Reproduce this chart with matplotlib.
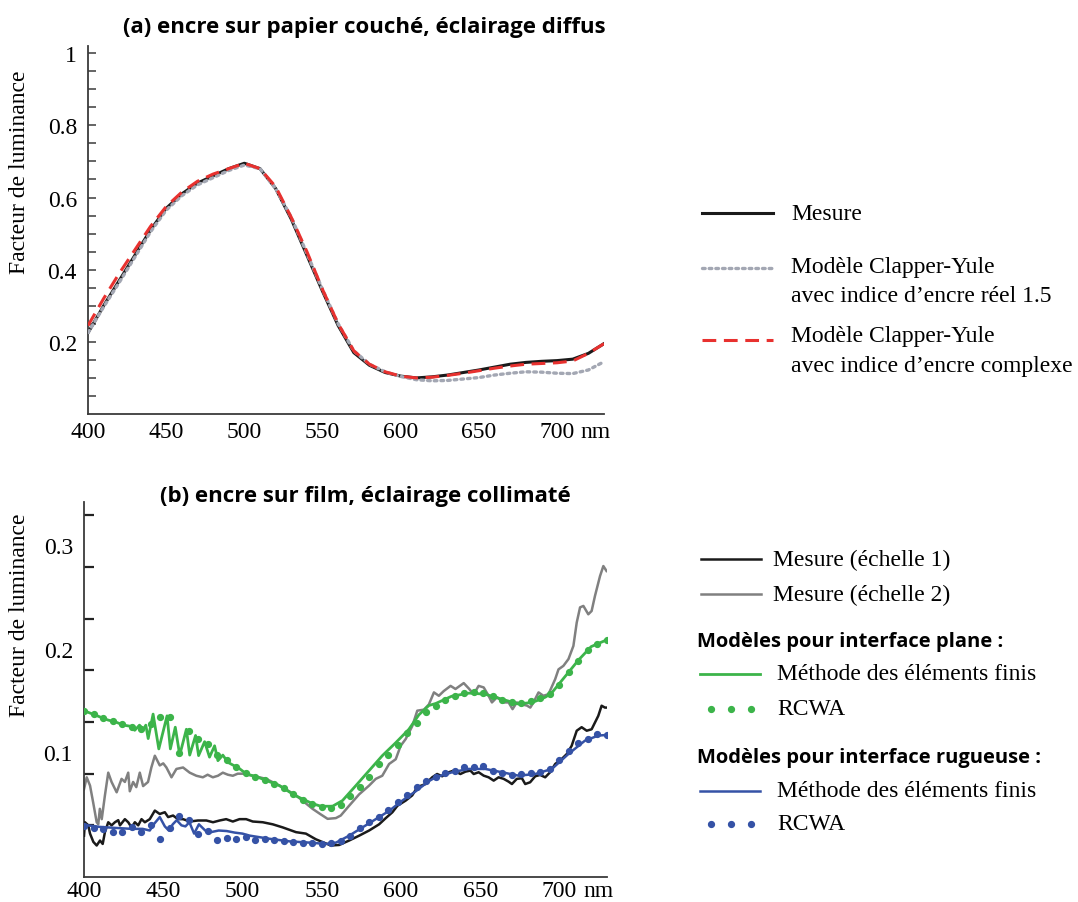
import numpy as np
import matplotlib
matplotlib.use("Agg")
import matplotlib.pyplot as plt
from matplotlib.lines import Line2D

plt.rcParams['font.family'] = ['Liberation Serif', 'DejaVu Serif']

# ---- (a) ink on coated paper, diffuse lighting ----
wl_a = [400, 410, 420, 430, 440, 450, 460, 470, 480, 490, 500, 510, 520, 530, 540, 550, 560,
        570, 580, 590, 600, 610, 620, 630, 640, 650, 660, 670, 680, 690, 700, 710, 720, 730]
mesure_a = [0.225, 0.30, 0.37, 0.44, 0.51, 0.57, 0.61, 0.64, 0.66, 0.68, 0.695, 0.68, 0.625, 0.54,
            0.44, 0.34, 0.245, 0.17, 0.135, 0.115, 0.105, 0.100, 0.103, 0.108, 0.115, 0.122,
            0.130, 0.138, 0.143, 0.146, 0.148, 0.152, 0.168, 0.195]
cy_reel = [0.225, 0.297, 0.365, 0.435, 0.505, 0.565, 0.605, 0.635, 0.655, 0.675, 0.69, 0.68, 0.625,
           0.545, 0.445, 0.345, 0.25, 0.175, 0.138, 0.117, 0.104, 0.095, 0.092, 0.093, 0.097,
           0.101, 0.108, 0.113, 0.117, 0.116, 0.113, 0.112, 0.122, 0.145]
cy_complexe = [0.245, 0.32, 0.39, 0.455, 0.52, 0.575, 0.615, 0.645, 0.665, 0.68, 0.695, 0.68, 0.63,
               0.545, 0.45, 0.345, 0.25, 0.175, 0.138, 0.117, 0.105, 0.100, 0.102, 0.107, 0.113,
               0.120, 0.127, 0.133, 0.138, 0.140, 0.142, 0.147, 0.168, 0.195]

# ---- (b) ink on film, collimated lighting ----
wl_gris = [400, 401.7, 403.8, 405.8, 408, 409, 410, 411.2, 413.2, 415.3, 417.4, 420.6, 423.7, 425.8,
           427.9, 428.9, 431, 433, 435.2, 437.3, 440.4, 442.5, 444.7, 447.8, 450, 452, 455.2, 458.3,
           462.5, 466.7, 470.9, 475, 478, 481.3, 484.5, 487.6, 490.8, 493.9, 497, 500.2, 506.5,
           514.9, 523.3, 533.8, 544.2, 549, 553.7, 558.9, 562, 567.3, 573.6, 579.9, 584.1, 588.2,
           592.5, 596.7, 599.8, 603, 607.1, 610.3, 614.5, 617.6, 620.8, 623.9, 627, 631.3, 634.4,
           639.6, 642.8, 645.9, 649, 652.2, 655.3, 657.4, 660.6, 664.8, 667.9, 670.4, 673.1, 676.3,
           679.4, 681.6, 683.6, 686.8, 689.9, 693.1, 697.3, 699.4, 702.5, 705.7, 708.8, 710.9, 713,
           715.1, 718.2, 720.3, 722.4, 725.6, 727.7, 729.7]
mesure_gris = [0.064, 0.0755, 0.0675, 0.051, 0.032, 0.030, 0.045, 0.035, 0.058, 0.080, 0.071, 0.061,
               0.074, 0.071, 0.080, 0.062, 0.071, 0.066, 0.080, 0.067, 0.071, 0.085, 0.0964, 0.087,
               0.089, 0.085, 0.0755, 0.0836, 0.085, 0.080, 0.077, 0.0755, 0.078, 0.0755, 0.077, 0.080,
               0.078, 0.077, 0.079, 0.079, 0.077, 0.074, 0.0675, 0.058, 0.045, 0.040, 0.0353, 0.036,
               0.0385, 0.048, 0.059, 0.0675, 0.074, 0.077, 0.0884, 0.093, 0.106, 0.1126, 0.125, 0.140,
               0.141, 0.146, 0.1577, 0.1544, 0.159, 0.164, 0.161, 0.1667, 0.1615, 0.156, 0.164, 0.1625,
               0.1544, 0.148, 0.153, 0.148, 0.148, 0.1415, 0.148, 0.146, 0.145, 0.143, 0.148, 0.1577,
               0.1544, 0.156, 0.1705, 0.180, 0.1834, 0.190, 0.2027, 0.2253, 0.240, 0.2414, 0.2333,
               0.2365, 0.251, 0.2703, 0.280, 0.2752]

wl_noir = [400, 400.6, 402.7, 403.8, 405.9, 408, 410.1, 411.8, 413.2, 415.3, 417.4, 419.5, 421.6,
           422.7, 425.8, 427.9, 430, 432.1, 434.2, 436.3, 438.4, 441.5, 444.7, 447.8, 451, 453.1,
           456.2, 459.3, 462.5, 466.7, 471.9, 477.2, 481.4, 485.6, 489.7, 493.9, 498.1, 502.3,
           506.5, 512.8, 519.1, 525.4, 533.8, 540, 546.3, 550.5, 555.8, 561, 567.3, 573.6, 579.9,
           586.2, 590.4, 594.6, 597.8, 603, 607.1, 610.3, 615.5, 619.7, 622.8, 626, 630.2, 633.3,
           637.5, 640.7, 643.8, 645.9, 649, 652.2, 655.3, 658.5, 661.6, 664.8, 667.9, 670, 673.1,
           676.3, 678.4, 681.5, 684.7, 687.8, 691, 694.1, 697.3, 701.4, 704.6, 707.7, 710.9, 714,
           717.2, 720.3, 724.5, 726.6, 728.7, 729.8]
mesure_noir = [0.019, 0.032, 0.029, 0.021, 0.013, 0.0095, 0.0143, 0.011, 0.0224, 0.032, 0.029, 0.032,
               0.034, 0.029, 0.035, 0.032, 0.027, 0.032, 0.029, 0.035, 0.032, 0.035, 0.0433, 0.040,
               0.0417, 0.037, 0.0385, 0.035, 0.035, 0.0327, 0.0337, 0.0337, 0.032, 0.0337, 0.035,
               0.0327, 0.035, 0.035, 0.0327, 0.032, 0.030, 0.027, 0.0224, 0.021, 0.0155, 0.0128,
               0.0095, 0.010, 0.0143, 0.019, 0.024, 0.030, 0.036, 0.0417, 0.048, 0.053, 0.058, 0.066,
               0.069, 0.0755, 0.0787, 0.0765, 0.0804, 0.082, 0.0787, 0.081, 0.082, 0.0787, 0.0804,
               0.0771, 0.0755, 0.0723, 0.0755, 0.074, 0.0713, 0.069, 0.074, 0.0746, 0.069, 0.0707,
               0.0765, 0.0778, 0.0755, 0.0804, 0.0884, 0.0932, 0.098, 0.106, 0.1206, 0.124, 0.1206,
               0.122, 0.135, 0.1448, 0.143, 0.143]

wl_vert = [400, 405, 410, 415, 420, 425, 429, 432, 435, 437.5, 439, 440.5, 443.6, 447.2, 452.4, 454.5,
           457.6, 460.4, 464.6, 466.7, 470.4, 472.3, 476.1, 479.2, 482.4, 484.5, 487.6, 490.8, 498,
           502.3, 510.7, 523.3, 533, 544.2, 549.5, 556.8, 563.1, 571.5, 579.9, 588.2, 596.7, 605,
           611.3, 617.6, 622, 632, 643, 653, 664, 674, 683, 691, 695, 703.5, 712, 720, 729, 730]
fem_plane = [0.140, 0.137, 0.134, 0.131, 0.129, 0.126, 0.125, 0.121, 0.126, 0.122, 0.126, 0.113,
             0.1367, 0.103, 0.135, 0.103, 0.124, 0.097, 0.122, 0.097, 0.116, 0.0965, 0.110, 0.095,
             0.106, 0.0916, 0.097, 0.090, 0.084, 0.079, 0.075, 0.0675, 0.058, 0.050, 0.0475, 0.0475,
             0.053, 0.0674, 0.082, 0.0964, 0.109, 0.122, 0.136, 0.145, 0.147, 0.154, 0.157, 0.156,
             0.151, 0.1465, 0.148, 0.153, 0.157, 0.173, 0.189, 0.202, 0.208, 0.209]

wl_rcwa = [400, 406, 412, 418, 424, 430, 436, 442, 448, 454, 460, 466, 472, 478, 484, 490, 496, 502,
           508, 514, 520, 526, 532, 538, 544, 550, 556, 562, 568, 574, 580, 586, 592, 598, 604, 610,
           616, 622, 628, 634, 640, 646, 652, 658, 664, 670, 676, 682, 688, 694, 700, 706, 712, 718,
           724, 730]
rcwa_plane = [0.140, 0.137, 0.133, 0.130, 0.127, 0.124, 0.122, 0.127, 0.134, 0.134, 0.099, 0.120,
              0.113, 0.108, 0.097, 0.092, 0.085, 0.080, 0.076, 0.073, 0.069, 0.065, 0.059, 0.054,
              0.050, 0.047, 0.046, 0.049, 0.057, 0.066, 0.076, 0.088, 0.097, 0.107, 0.118, 0.128,
              0.139, 0.145, 0.150, 0.154, 0.157, 0.158, 0.157, 0.154, 0.150, 0.148, 0.147, 0.149,
              0.152, 0.156, 0.165, 0.177, 0.188, 0.199, 0.205, 0.208]

wl_bleu = [400, 410, 420, 430, 437, 441.5, 444, 447.8, 451, 453.5, 456, 458.5, 461.5, 464, 466.5,
           469.5, 472.5, 476.5, 480, 485, 490, 495, 500, 504.4, 517, 529.6, 542.2, 552.7, 559,
           567.3, 575.7, 584.1, 592.5, 600.9, 609.3, 617.6, 621.8, 632.3, 642.7, 653.2, 663.7,
           674.2, 684.7, 695.2, 705.6, 716.1, 724.5, 729.8]
fem_rugueuse = [0.0295, 0.0275, 0.0265, 0.0256, 0.0256, 0.024, 0.030, 0.037, 0.028, 0.024, 0.030,
                0.034, 0.029, 0.028, 0.032, 0.021, 0.030, 0.024, 0.0224, 0.024, 0.0235, 0.022, 0.021,
                0.0191, 0.016, 0.0135, 0.0123, 0.011, 0.0123, 0.019, 0.027, 0.035, 0.043, 0.053,
                0.062, 0.0718, 0.0755, 0.0804, 0.0836, 0.0836, 0.0804, 0.0771, 0.0787, 0.0836,
                0.098, 0.111, 0.1159, 0.1165]
rcwa_rugueuse = [0.028, 0.026, 0.025, 0.023, 0.023, 0.027, 0.023, 0.029, 0.016, 0.026, 0.038, 0.034,
                 0.021, 0.024, 0.015, 0.017, 0.016, 0.018, 0.015, 0.016, 0.015, 0.014, 0.013, 0.012,
                 0.012, 0.011, 0.012, 0.014, 0.019, 0.026, 0.032, 0.037, 0.044, 0.052, 0.058, 0.066,
                 0.072, 0.076, 0.080, 0.082, 0.085, 0.085, 0.086, 0.082, 0.080, 0.078, 0.079, 0.080,
                 0.081, 0.084, 0.092, 0.101, 0.109, 0.113, 0.117, 0.116]

xticks = [400, 450, 500, 550, 600, 650, 700]

NOIR = '#1a1a1a'
GRIS = '#808080'
VERT = '#3cb44a'
BLEU = '#3552a6'
ROUGE = '#e8312f'
GRIS_POINT = '#a3a7b3'
TXT = 17

W, H = 1078, 903
fig = plt.figure(figsize=(W / 100, H / 100), dpi=100)


def fx(px):
    return px / W


def fy(py):
    return 1 - py / H


def style_axis(ax, pad):
    ax.spines['top'].set_visible(False)
    ax.spines['right'].set_visible(False)
    for s in ('left', 'bottom'):
        ax.spines[s].set_color('#3a3a3a')
        ax.spines[s].set_linewidth(1.3)
    ax.set_xlim(400, 730)
    ax.set_xticks(xticks)
    ax.set_xticklabels([str(t) for t in xticks])
    ax.tick_params(axis='x', length=0, labelsize=TXT, pad=pad)
    ax.annotate('nm', xy=(700, 0), xycoords=('data', 'axes fraction'),
                xytext=(17, -pad), textcoords='offset points', ha='left', va='top', fontsize=TXT)


# ----- top panel -----
ax1 = fig.add_axes([fx(88), fy(415), fx(604) - fx(88), (415 - 47) / H])
style_axis(ax1, 5)
ax1.set_ylim(0, 1.02)
ax1.set_yticks([0.2, 0.4, 0.6, 0.8, 1.0])
ax1.set_yticklabels(['0.2', '0.4', '0.6', '0.8', '1'])
ax1.set_yticks(np.arange(0.05, 1.01, 0.05), minor=True)
ax1.tick_params(axis='y', which='both', direction='in', length=6, width=1.1,
                color='#3a3a3a', labelsize=TXT, pad=8)

ax1.plot(wl_a, mesure_a, color=NOIR, lw=2.2, zorder=3)
ax1.plot(wl_a, cy_reel, color=GRIS_POINT, lw=2.4, linestyle=(0, (0.8, 1.2)),
         dash_capstyle='round', zorder=4)
ax1.plot(wl_a, cy_complexe, color=ROUGE, lw=2.2, linestyle=(0, (4.5, 2.5)), zorder=5)

fig.text(fx(20), fy(172), 'Facteur de luminance', rotation=90, ha='center', va='center',
         fontsize=TXT)
fig.text(fx(364), fy(28), '(a) encre sur papier couché, éclairage diffus', ha='center',
         va='center', fontsize=16, fontweight='bold', family=['Open Sans', 'DejaVu Sans'])

# ----- bottom panel -----
ax2 = fig.add_axes([fx(84), fy(878), fx(607) - fx(84), (878 - 503) / H])
style_axis(ax2, 2)
ax2.set_ylim(-0.021, 0.342)
ax2.set_yticks([0.1, 0.2, 0.3])
ax2.set_yticklabels(['0.1', '0.2', '0.3'])
ax2.tick_params(axis='y', which='major', length=0, labelsize=TXT, pad=8)
ax2.set_yticks([0.029, 0.079, 0.129, 0.179, 0.229, 0.279, 0.329], minor=True)
ax2.tick_params(axis='y', which='minor', direction='in', length=7, width=1.6, color='#222222')

ax2.plot(wl_gris, mesure_gris, color=GRIS, lw=1.8, zorder=2)
ax2.plot(wl_noir, mesure_noir, color=NOIR, lw=1.8, zorder=3)
ax2.plot(wl_vert, fem_plane, color=VERT, lw=2.0, zorder=4)
ax2.plot(wl_rcwa, rcwa_plane, linestyle='none', marker='o', ms=4.2, color=VERT, zorder=5)
ax2.plot(wl_bleu, fem_rugueuse, color=BLEU, lw=1.8, zorder=4)
ax2.plot(wl_rcwa, rcwa_rugueuse, linestyle='none', marker='o', ms=4.2, color=BLEU, zorder=5)

fig.text(fx(20), fy(615), 'Facteur de luminance', rotation=90, ha='center', va='center',
         fontsize=TXT)
fig.text(fx(365), fy(497), '(b) encre sur film, éclairage collimaté', ha='center',
         va='center', fontsize=16, fontweight='bold', family=['Open Sans', 'DejaVu Sans'])


# ----- legends (figure coordinates) -----
def leg_line(x0, x1, y, **kw):
    fig.add_artist(Line2D([fx(x0), fx(x1)], [fy(y), fy(y)], transform=fig.transFigure, **kw))


def leg_text(x, y, s, bold=False):
    if bold:
        fig.text(fx(x), fy(y), s, ha='left', va='center', fontsize=14.5, fontweight='bold',
                 family=['Open Sans', 'DejaVu Sans'])
    else:
        fig.text(fx(x), fy(y), s, ha='left', va='center', fontsize=TXT)


leg_line(702, 773, 214, color=NOIR, lw=2.2)
leg_text(791, 215, 'Mesure')
leg_line(702, 773, 269, color=GRIS_POINT, lw=2.4, linestyle=(0, (0.8, 1.2)),
         dash_capstyle='round')
leg_text(791, 268, 'Modèle Clapper-Yule')
leg_text(791, 297, 'avec indice d\u2019encre réel 1.5')
leg_line(702, 773, 341, color=ROUGE, lw=2.2, linestyle=(0, (4.5, 2.5)))
leg_text(791, 337, 'Modèle Clapper-Yule')
leg_text(791, 367, 'avec indice d\u2019encre complexe')

leg_line(701, 761, 560, color=NOIR, lw=1.8)
leg_text(773, 560, 'Mesure (échelle 1)')
leg_line(701, 761, 595, color=GRIS, lw=1.8)
leg_text(773, 595, 'Mesure (échelle 2)')
leg_text(697, 642, 'Modèles pour interface plane :', bold=True)
leg_line(700, 760, 675, color=VERT, lw=2.0)
leg_text(777, 675, 'Méthode des éléments finis')
fig.add_artist(Line2D([fx(711), fx(731), fx(751)], [fy(710)] * 3, transform=fig.transFigure,
                      linestyle='none', marker='o', ms=4.2, color=VERT))
leg_text(777, 710, 'RCWA')
leg_text(697, 758, 'Modèles pour interface rugueuse :', bold=True)
leg_line(700, 760, 792, color=BLEU, lw=1.8)
leg_text(777, 792, 'Méthode des éléments finis')
fig.add_artist(Line2D([fx(711), fx(731), fx(751)], [fy(825)] * 3, transform=fig.transFigure,
                      linestyle='none', marker='o', ms=4.2, color=BLEU))
leg_text(777, 825, 'RCWA')

fig.savefig('out.png', dpi=100)
